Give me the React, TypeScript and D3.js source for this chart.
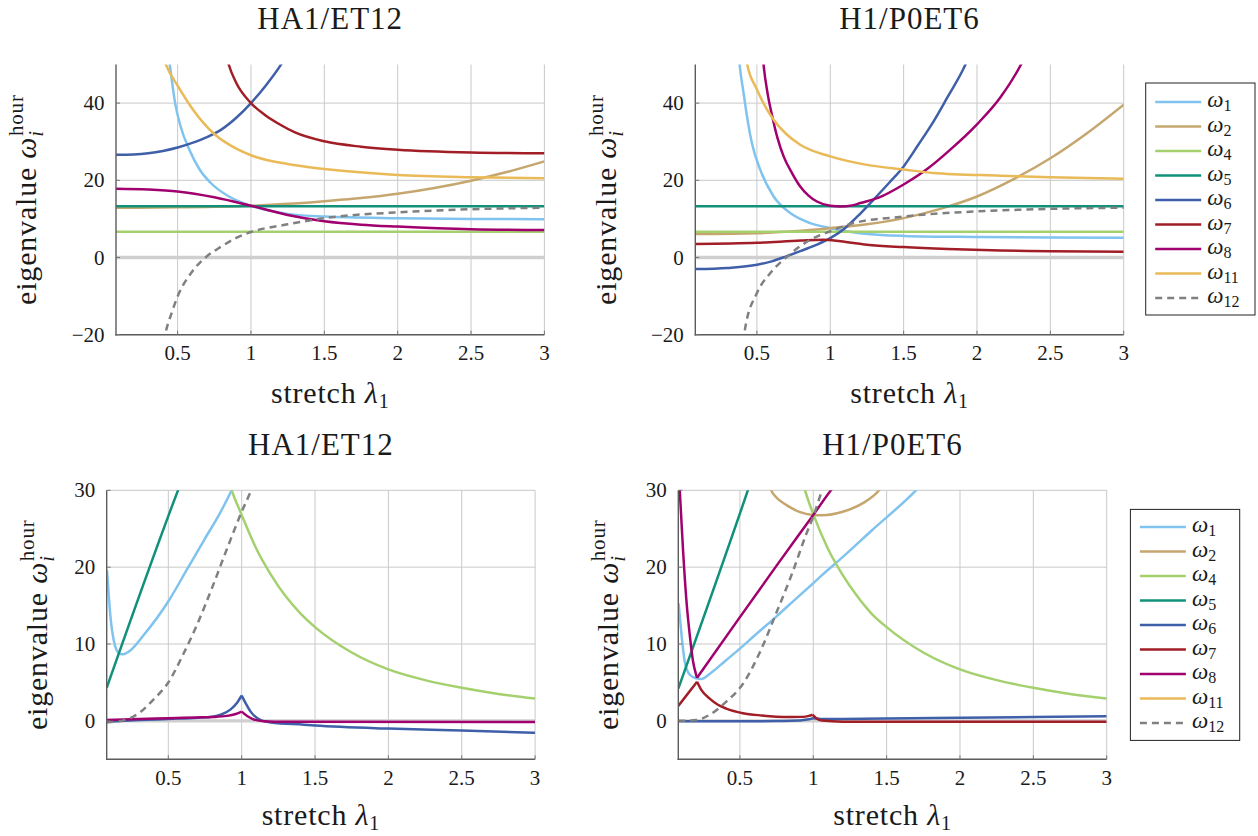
import React from 'react';
import * as d3 from 'd3';

type Pt = [number, number];
type Seg = Pt[];

// ---------- axes ----------
const X_DOMAIN: [number, number] = [0.08, 3];
const X_TICKS = [0.5, 1, 1.5, 2, 2.5, 3];
const X_TICK_LABELS = ['0.5', '1', '1.5', '2', '2.5', '3'];
const Y_DOMAIN_TOP: [number, number] = [-20, 50];
const Y_TICKS_TOP = [-20, 0, 20, 40];
const Y_DOMAIN_BOTTOM: [number, number] = [-5, 30];
const Y_TICKS_BOTTOM = [0, 10, 20, 30];
const TITLES = ['HA1/ET12', 'H1/P0ET6', 'HA1/ET12', 'H1/P0ET6'];

// ---------- series ----------
const SERIES_KEYS = ['w1', 'w2', 'w4', 'w5', 'w6', 'w7', 'w8', 'w11', 'w12'];
const SERIES_SUBS = ['1', '2', '4', '5', '6', '7', '8', '11', '12'];
const SERIES_COLORS = ['#80c3ee', '#c6a66f', '#a4d06e', '#12917a', '#3f5fa9', '#a21e27', '#a1006f', '#e9ba57', '#808080'];

// top-left: HA1/ET12
const tlW1: Seg = [[0.44, 52], [0.45, 49], [0.483, 40], [0.52, 34], [0.58, 27.9], [0.65, 22.8], [0.726, 19.3], [0.85, 15.8], [1, 13.4], [1.25, 11.3], [1.5, 10.6], [2, 10.2], [2.5, 10], [3, 9.9]];
const tlW2: Seg = [[0.08, 12.9], [0.5, 13], [1, 13.4], [1.25, 13.9], [1.5, 14.6], [1.75, 15.4], [2, 16.5], [2.25, 18], [2.5, 19.9], [2.75, 22.2], [3, 24.9]];
const tlW4: Seg = [[0.08, 6.7], [3, 6.7]];
const tlW5: Seg = [[0.08, 13.3], [3, 13.3]];
const tlW6: Seg = [[0.08, 26.6], [0.2, 26.7], [0.3, 27], [0.4, 27.6], [0.5, 28.5], [0.6, 29.7], [0.7, 31.2], [0.8, 33.2], [0.9, 36.2], [1, 40], [1.1, 44.5], [1.2, 49.7], [1.23, 51.5]];
const tlW7: Seg = [[0.83, 52.5], [0.848, 50], [0.9, 45.2], [1, 40], [1.1, 36.8], [1.2, 34.4], [1.3, 32.4], [1.5, 30.1], [1.75, 28.7], [2, 27.9], [2.5, 27.2], [3, 27]];
const tlW8: Seg = [[0.08, 17.8], [0.3, 17.6], [0.5, 17.1], [0.75, 15.6], [1, 13.4], [1.25, 11], [1.5, 9.4], [1.75, 8.5], [2, 8], [2.5, 7.3], [3, 7.1]];
const tlW11: Seg = [[0.41, 51], [0.42, 50], [0.5, 44.5], [0.605, 38.3], [0.75, 32], [0.9, 28.2], [1, 26.5], [1.25, 24.2], [1.5, 22.9], [2, 21.4], [2.5, 20.8], [3, 20.5]];
const tlW12: Seg = [[0.405, -22], [0.415, -20], [0.459, -14.4], [0.5, -10.1], [0.6, -3.6], [0.69, 0], [0.8, 2.9], [0.9, 5.1], [1, 6.6], [1.25, 8.6], [1.5, 10.2], [2, 11.7], [2.5, 12.5], [3, 12.9]];

// top-right: H1/P0ET6
const trW1: Seg = [[0.375, 53], [0.382, 50], [0.409, 42.6], [0.44, 34.8], [0.466, 29.6], [0.523, 22.7], [0.614, 15.8], [0.727, 11.5], [0.864, 8.9], [1, 7.6], [1.2, 6.3], [1.5, 5.6], [2, 5.3], [2.5, 5.15], [3, 5.1]];
const trW2: Seg = [[0.08, 6.1], [0.5, 6.3], [0.75, 6.8], [1, 7.6], [1.25, 8.6], [1.5, 10.2], [1.75, 12.6], [2, 15.8], [2.25, 20.3], [2.5, 25.7], [2.75, 32.2], [3, 39.6]];
const trW4: Seg = [[0.08, 6.7], [3, 6.7]];
const trW5: Seg = [[0.08, 13.3], [3, 13.3]];
const trW6: Seg = [[0.08, -3], [0.3, -2.7], [0.5, -1.9], [0.6, -1], [0.7, 0.3], [0.8, 1.7], [0.9, 3.2], [1, 5], [1.1, 7.6], [1.2, 11.2], [1.3, 15.2], [1.4, 19.3], [1.5, 23.6], [1.6, 29.2], [1.7, 35], [1.8, 41.6], [1.9, 48.3], [1.94, 51.5]];
const trW7: Seg = [[0.08, 3.5], [0.5, 3.8], [0.8, 4.4], [0.95, 4.6], [1.07, 4.2], [1.25, 3.3], [1.5, 2.7], [1.8, 2.2], [2.16, 1.8], [2.5, 1.65], [3, 1.5]];
const trW8: Seg = [[0.54, 52], [0.545, 50], [0.575, 42], [0.602, 37], [0.64, 31], [0.682, 26.2], [0.74, 21.8], [0.795, 18.4], [0.85, 16.1], [0.909, 14.5], [1, 13.4], [1.07, 13.2], [1.15, 13.5], [1.205, 14.1], [1.33, 15.5], [1.5, 18.9], [1.66, 22.9], [1.82, 28], [2, 34.5], [2.16, 41.5], [2.3, 50], [2.32, 51.5]];
const trW11: Seg = [[0.425, 53], [0.432, 50.4], [0.5, 43.5], [0.614, 35.7], [0.7, 32], [0.795, 29.2], [1, 26.2], [1.25, 24], [1.5, 22.8], [1.7, 21.9], [2.16, 21.2], [2.5, 20.8], [3, 20.4]];
const trW12: Seg = [[0.405, -22], [0.42, -18.3], [0.5, -9.2], [0.59, -4.1], [0.705, 0.2], [0.864, 4.6], [1, 6.8], [1.16, 8.9], [1.5, 10.6], [2.16, 12.2], [2.5, 12.6], [3, 12.9]];

// bottom-left: HA1/ET12
const blW1: Seg = [[0.082, 19.6], [0.095, 16], [0.107, 13.3], [0.13, 10.3], [0.164, 8.8], [0.186, 8.66], [0.243, 9.2], [0.334, 11.2], [0.505, 15.7], [0.63, 19.8], [0.743, 23.5], [0.857, 27.2], [0.932, 30], [0.94, 30.3]];
const blW4: Seg = [[0.925, 30.4], [0.932, 30], [1, 26.8], [1.1, 22.4], [1.2, 19], [1.3, 16.2], [1.4, 14], [1.5, 12.2], [1.75, 8.9], [2, 6.7], [2.25, 5.3], [2.5, 4.3], [2.75, 3.5], [3, 2.9]];
const blW5: Seg = [[0.08, 4.3], [0.566, 30], [0.58, 30.7]];
const blW6a: Seg = [[0.08, -0.1], [0.3, 0.1], [0.5, 0.25], [0.7, 0.4], [0.8, 0.55], [0.857, 0.8], [0.925, 1.5], [0.97, 2.4], [1, 3.3]];
const blW6b: Seg = [[1, 3.3], [1.027, 2.3], [1.061, 1.2], [1.13, 0.1], [1.2, -0.2], [1.425, -0.5], [1.5, -0.6], [2, -1], [2.5, -1.25], [3, -1.55]];
const blW8a: Seg = [[0.08, 0.1], [0.3, 0.25], [0.5, 0.35], [0.7, 0.45], [0.8, 0.5], [0.9, 0.65], [0.96, 0.9], [1, 1.2]];
const blW8b: Seg = [[1, 1.2], [1.04, 0.6], [1.08, 0.2], [1.15, -0.05], [1.3, -0.12], [3, -0.15]];
const blW12: Seg = [[0.08, -0.2], [0.2, 0.1], [0.3, 1], [0.4, 2.8], [0.5, 5], [0.6, 8.6], [0.7, 12.7], [0.8, 17.4], [0.9, 22.4], [1, 27.2], [1.065, 30], [1.08, 30.7]];

// bottom-right: H1/P0ET6
const brW1a: Seg = [[0.082, 15.3], [0.09, 13.6], [0.102, 11.2], [0.124, 7.7], [0.158, 6], [0.2, 5.55], [0.238, 5.45], [0.3, 6.2], [0.4, 7.8], [0.5, 9.4], [0.6, 11.1], [0.75, 13.6], [0.9, 16.2], [1, 17.9]];
const brW1b: Seg = [[1, 17.9], [1.05, 18.8], [1.2, 21.3], [1.4, 24.8], [1.7, 30], [1.72, 30.4]];
const brW2: Seg = [[0.705, 30.4], [0.713, 30], [0.747, 29.1], [0.815, 28.1], [0.905, 27.2], [1, 26.8], [1.06, 26.75], [1.2, 27.2], [1.335, 28.3], [1.448, 30], [1.46, 30.3]];
const brW4: Seg = [[0.938, 30.4], [0.944, 30], [1, 26.9], [1.1, 22.4], [1.2, 19], [1.3, 16.2], [1.4, 13.9], [1.5, 12.2], [1.75, 8.9], [2, 6.7], [2.25, 5.3], [2.5, 4.3], [2.75, 3.5], [3, 2.9]];
const brW5: Seg = [[0.08, 4.2], [0.554, 30], [0.57, 30.9]];
const brW6: Seg = [[0.08, -0.05], [0.5, -0.05], [0.8, -0.02], [0.9, 0.05], [0.97, 0.2], [1, 0.35], [1.05, 0.25], [1.2, 0.25], [1.5, 0.3], [2, 0.4], [2.5, 0.5], [3, 0.6]];
const brW7a: Seg = [[0.08, 1.95], [0.208, 5.1]];
const brW7b: Seg = [[0.208, 5.1], [0.238, 4], [0.294, 2.9], [0.35, 2.1], [0.407, 1.6], [0.52, 1], [0.65, 0.7], [0.747, 0.55], [0.85, 0.5], [0.928, 0.52], [0.97, 0.65], [0.995, 0.8]];
const brW7c: Seg = [[0.995, 0.8], [1.02, 0.35], [1.06, 0.05], [1.2, -0.1], [2, -0.12], [3, -0.12]];
const brW8a: Seg = [[0.088, 30.7], [0.09, 30], [0.1, 26.5], [0.113, 22], [0.136, 15.5], [0.158, 11.2], [0.181, 7.7], [0.2, 6.1], [0.208, 5.6]];
const brW8b: Seg = [[0.208, 5.6], [0.5, 13.5], [0.75, 20.2], [1, 26.8], [1.12, 30], [1.14, 30.5]];
const brW12: Seg = [[0.08, 0], [0.2, 0.1], [0.294, 0.8], [0.407, 2.5], [0.52, 4.8], [0.633, 8.8], [0.747, 14], [0.86, 19.4], [0.95, 24.2], [1, 26.6], [1.06, 30], [1.075, 30.8]];

const PANEL_SERIES: Record<string, Seg[]>[] = [
  { w1: [tlW1], w2: [tlW2], w4: [tlW4], w5: [tlW5], w6: [tlW6], w7: [tlW7], w8: [tlW8], w11: [tlW11], w12: [tlW12] },
  { w1: [trW1], w2: [trW2], w4: [trW4], w5: [trW5], w6: [trW6], w7: [trW7], w8: [trW8], w11: [trW11], w12: [trW12] },
  { w1: [blW1], w4: [blW4], w5: [blW5], w6: [blW6a, blW6b], w8: [blW8a, blW8b], w12: [blW12] },
  { w1: [brW1a, brW1b], w2: [brW2], w4: [brW4], w5: [brW5], w6: [brW6], w7: [brW7a, brW7b, brW7c], w8: [brW8a, brW8b], w12: [brW12] },
];

const FONT = "'Liberation Serif', 'DejaVu Serif', serif";

interface PanelProps {
  id: number;
  left: number; right: number; top: number; bottom: number;
  yDomain: [number, number]; yTicks: number[];
  titleY: number; ylabelX: number; xlabelDy: number;
}

const fmtY = (v: number) => (v < 0 ? '\u2212' + Math.abs(v) : String(v));

function Panel({ id, left, right, top, bottom, yDomain, yTicks, titleY, ylabelX, xlabelDy }: PanelProps) {
  const x = d3.scaleLinear().domain(X_DOMAIN).range([left, right]);
  const y = d3.scaleLinear().domain(yDomain).range([bottom, top]);
  const line = d3.line<Pt>().x(d => x(d[0])).y(d => y(d[1])).curve(d3.curveMonotoneX);
  const cx = (left + right) / 2;
  const cy = (top + bottom) / 2;
  const series = PANEL_SERIES[id];
  const clipId = `clip-${id}`;
  return (
    <g fontFamily={FONT}>
      <defs>
        <clipPath id={clipId}>
          <rect x={left} y={top} width={right - left} height={bottom - top} />
        </clipPath>
      </defs>
      {X_TICKS.map(t => (
        <line key={'gx' + t} x1={x(t)} x2={x(t)} y1={top} y2={bottom} stroke="#c9c9c9" strokeWidth={1} />
      ))}
      {yTicks.filter(t => t !== 0).map(t => (
        <line key={'gy' + t} x1={left} x2={right} y1={y(t)} y2={y(t)} stroke="#c9c9c9" strokeWidth={1} />
      ))}
      <line x1={left} x2={right} y1={y(0)} y2={y(0)} stroke="#cfcfcf" strokeWidth={3.4} />
      <g clipPath={`url(#${clipId})`}>
        {SERIES_KEYS.map((k, i) =>
          (series[k] || []).map((seg, j) => (
            <path
              key={k + '-' + j}
              d={line(seg) || ''}
              fill="none"
              stroke={SERIES_COLORS[i]}
              strokeWidth={2.5}
              strokeDasharray={k === 'w12' ? '7 5' : undefined}
            />
          ))
        )}
      </g>
      {/* axis lines */}
      <line x1={left} x2={left} y1={top} y2={bottom + 0.7} stroke="#5c5c5c" strokeWidth={1.4} />
      <line x1={left - 0.7} x2={right} y1={bottom} y2={bottom} stroke="#5c5c5c" strokeWidth={1.4} />
      {X_TICKS.map(t => (
        <line key={'tx' + t} x1={x(t)} x2={x(t)} y1={bottom} y2={bottom - 4} stroke="#777" strokeWidth={1} />
      ))}
      {yTicks.map(t => (
        <line key={'ty' + t} x1={left} x2={left + 4} y1={y(t)} y2={y(t)} stroke="#777" strokeWidth={1} />
      ))}
      {/* tick labels */}
      {X_TICKS.map((t, i) => (
        <text key={'lx' + t} x={x(t)} y={bottom + 25.5} textAnchor="middle" fontSize={21} fill="#1a1a1a">
          {X_TICK_LABELS[i]}
        </text>
      ))}
      {yTicks.map(t => (
        <text key={'ly' + t} x={left - 11.5} y={y(t)} dy="0.34em" textAnchor="end" fontSize={21} fill="#1a1a1a">
          {fmtY(t)}
        </text>
      ))}
      {/* title */}
      <text x={cx} y={titleY} textAnchor="middle" fontSize={31} fill="#1a1a1a" letterSpacing={1}>
        {TITLES[id]}
      </text>
      {/* x label */}
      <text x={cx} y={bottom + xlabelDy} textAnchor="middle" fontSize={30} fill="#1a1a1a" letterSpacing={0.8}>
        stretch{' '}
        <tspan fontStyle="italic">λ</tspan>
        <tspan fontSize={20} dy={5}>1</tspan>
      </text>
      {/* y label */}
      <text
        transform={`translate(${ylabelX},${cy}) rotate(-90)`}
        textAnchor="middle"
        fontSize={30}
        fill="#1a1a1a"
        letterSpacing={0.8}
      >
        eigenvalue{' '}
        <tspan fontStyle="italic">ω</tspan>
        <tspan fontStyle="italic" fontSize={21} dy={7}>i</tspan>
        <tspan fontSize={21} dx={-6} dy={-20}>hour</tspan>
      </text>
    </g>
  );
}

function Legend({ lx, ly, w, h, y0, step }: { lx: number; ly: number; w: number; h: number; y0: number; step: number }) {
  return (
    <g fontFamily={FONT}>
      <rect x={lx} y={ly} width={w} height={h} fill="#fff" stroke="#222" strokeWidth={1} />
      {SERIES_KEYS.map((k, i) => {
        const yy = y0 + i * step;
        return (
          <g key={k}>
            <line
              x1={lx + 9.5}
              x2={lx + 55.5}
              y1={yy}
              y2={yy}
              stroke={SERIES_COLORS[i]}
              strokeWidth={2.5}
              strokeDasharray={k === 'w12' ? '7 5' : undefined}
            />
            <text x={lx + 61.5} y={yy + 5} fontSize={23} fill="#1a1a1a">
              <tspan fontStyle="italic">ω</tspan>
              <tspan fontSize={16} dy={4}>{SERIES_SUBS[i]}</tspan>
            </text>
          </g>
        );
      })}
    </g>
  );
}

export default function App() {
  return (
    <svg
      width={1258}
      height={836}
      viewBox="0 0 1258 836"
      style={{ position: 'absolute', left: 0, top: 0, background: '#fff' }}
    >
      <rect x={0} y={0} width={1258} height={836} fill="#fff" />
      <Panel id={0} left={116} right={544.4} top={64.5} bottom={334.7} yDomain={Y_DOMAIN_TOP} yTicks={Y_TICKS_TOP} titleY={29} ylabelX={36} xlabelDy={68.5} />
      <Panel id={1} left={695.3} right={1123.7} top={64.5} bottom={334.7} yDomain={Y_DOMAIN_TOP} yTicks={Y_TICKS_TOP} titleY={29} ylabelX={615.5} xlabelDy={68.5} />
      <Panel id={2} left={106.7} right={535.1} top={490.3} bottom={759.3} yDomain={Y_DOMAIN_BOTTOM} yTicks={Y_TICKS_BOTTOM} titleY={455} ylabelX={46.5} xlabelDy={66} />
      <Panel id={3} left={678.3} right={1106.7} top={490.3} bottom={759.3} yDomain={Y_DOMAIN_BOTTOM} yTicks={Y_TICKS_BOTTOM} titleY={455} ylabelX={618} xlabelDy={66} />
      <Legend lx={1145.7} ly={83} w={109.3} h={232} y0={102} step={24.5} />
      <Legend lx={1130.4} ly={509.4} w={109.3} h={231} y0={527} step={24.5} />
    </svg>
  );
}
